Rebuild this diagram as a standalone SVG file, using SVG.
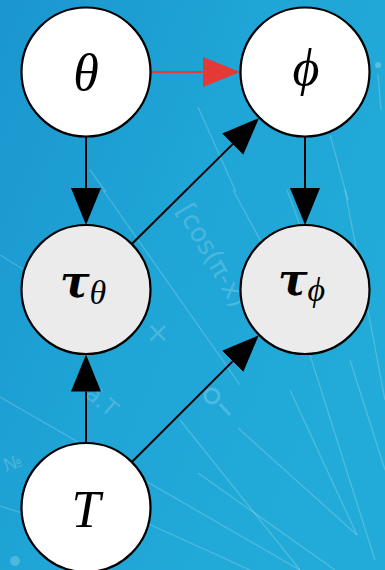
<svg xmlns="http://www.w3.org/2000/svg" width="385" height="570" viewBox="0 0 385 570">
  <defs>
    <linearGradient id="bg" x1="0" y1="0" x2="1" y2="0.6">
      <stop offset="0" stop-color="#1b96cf"/>
      <stop offset="0.5" stop-color="#1fa5d6"/>
      <stop offset="1" stop-color="#22abd9"/>
    </linearGradient>
    <marker id="ahBlack" markerUnits="userSpaceOnUse" markerWidth="38" markerHeight="32" refX="0" refY="15" orient="auto" viewBox="0 0 38 30">
      <path d="M0,0 L37,15 L0,30 Z" fill="#000"/>
    </marker>
    <marker id="ahRed" markerUnits="userSpaceOnUse" markerWidth="38" markerHeight="32" refX="0" refY="15" orient="auto" viewBox="0 0 38 30">
      <path d="M0,0 L37,15 L0,30 Z" fill="#e53935"/>
    </marker>
  </defs>
  <style>
    .deco { stroke: #ffffff; stroke-opacity: 0.2; stroke-width: 1.3; fill: none; }
    .decotext { fill: #ffffff; fill-opacity: 0.2; font-family: "DejaVu Sans", "Liberation Sans", sans-serif; }
    .edge { stroke: #000; stroke-width: 2; fill: none; marker-end: url(#ahBlack); }
    .edge-red { stroke: #e53935; stroke-width: 2; fill: none; marker-end: url(#ahRed); }
    .node { stroke: #000; stroke-width: 2.2; }
    .obs { fill: #ffffff; }
    .lat { fill: #ebebeb; }
    .lbl { font-family: "Liberation Serif", "DejaVu Serif", serif; font-style: italic; fill: #000; text-anchor: middle; }
    .tau { font-family: "DejaVu Serif", "Liberation Serif", serif; font-style: italic; font-weight: bold; fill: #000; }
    .sub { font-family: "Liberation Serif", "DejaVu Serif", serif; font-style: italic; fill: #000; }
  </style>

  <rect x="0" y="0" width="385" height="570" fill="url(#bg)"/>

  <g id="background-decoration">
    <line class="deco" x1="198" y1="107" x2="236" y2="192"/>
    <line class="deco" x1="330" y1="135" x2="348" y2="200"/>
    <line class="deco" x1="90" y1="170" x2="106" y2="192"/>
    <line class="deco" x1="103" y1="190" x2="240" y2="385"/>
    <line class="deco" x1="233" y1="190" x2="270" y2="258"/>
    <line class="deco" x1="345" y1="190" x2="385" y2="400"/>
    <line class="deco" x1="0" y1="255" x2="60" y2="292"/>
    <line class="deco" x1="287" y1="190" x2="300" y2="225" stroke-width="4" stroke-opacity="0.15"/>
    <line class="deco" x1="378" y1="75" x2="381" y2="110"/>
    <line class="deco" x1="0" y1="397" x2="300" y2="570"/>
    <line class="deco" x1="0" y1="506" x2="25" y2="514"/>
    <line class="deco" x1="198" y1="473" x2="335" y2="570"/>
    <line class="deco" x1="238" y1="428" x2="357" y2="535"/>
    <line class="deco" x1="290" y1="390" x2="357" y2="535"/>
    <line class="deco" x1="310" y1="355" x2="375" y2="560"/>
    <line class="deco" x1="350" y1="360" x2="385" y2="470"/>
    <line class="deco" x1="180" y1="420" x2="300" y2="570"/>
    <line class="deco" x1="140" y1="520" x2="250" y2="570"/>
    <circle cx="378" cy="65" r="3" fill="#ffffff" fill-opacity="0.25"/>
    <circle cx="15" cy="561" r="5" fill="#ffffff" fill-opacity="0.22"/>
    <text class="decotext" font-size="26" transform="translate(176,210) rotate(60)">[cos(π-x)</text>
    <text class="decotext" font-size="28" x="146" y="342">×</text>
    <text class="decotext" font-size="22" transform="translate(84,396) rotate(40)">a⃗.T</text>
    <text class="decotext" font-size="18" transform="translate(6,472) rotate(-20)">№</text>
    <g fill="none" stroke="#ffffff" stroke-opacity="0.2" stroke-width="3">
      <circle cx="212" cy="396" r="7"/>
      <line x1="220" y1="404" x2="230" y2="415"/>
    </g>
  </g>

  <g id="connectors">
    <line class="edge-red" x1="151" y1="72" x2="203" y2="72"/>
    <line class="edge" x1="86" y1="137" x2="86" y2="188"/>
    <line class="edge" x1="305" y1="137" x2="305" y2="188"/>
    <line class="edge" x1="86" y1="442.5" x2="86" y2="391.5"/>
    <line class="edge" x1="132" y1="243.7" x2="232.7" y2="144.1"/>
    <line class="edge" x1="132.1" y1="461.7" x2="232.6" y2="361.4"/>
  </g>

  <g id="node-theta">
    <circle class="node obs" cx="86" cy="72" r="64.5"/>
    <text class="lbl" x="86" y="90" font-size="52">θ</text>
  </g>
  <g id="node-phi">
    <circle class="node obs" cx="305" cy="72" r="64.5"/>
    <text class="lbl" x="306" y="85" font-size="52">ϕ</text>
  </g>
  <g id="node-tau-theta">
    <circle class="node lat" cx="86" cy="289.5" r="64.5"/>
    <text x="60" y="297"><tspan class="tau" font-size="44">τ</tspan><tspan class="sub" font-size="34" dy="7">θ</tspan></text>
  </g>
  <g id="node-tau-phi">
    <circle class="node lat" cx="305" cy="289.5" r="64.5"/>
    <text x="278" y="295"><tspan class="tau" font-size="44">τ</tspan><tspan class="sub" font-size="34" dy="6">ϕ</tspan></text>
  </g>
  <g id="node-T">
    <circle class="node obs" cx="86" cy="507.5" r="64.5"/>
    <text class="lbl" x="86" y="527" font-size="52">T</text>
  </g>
</svg>
